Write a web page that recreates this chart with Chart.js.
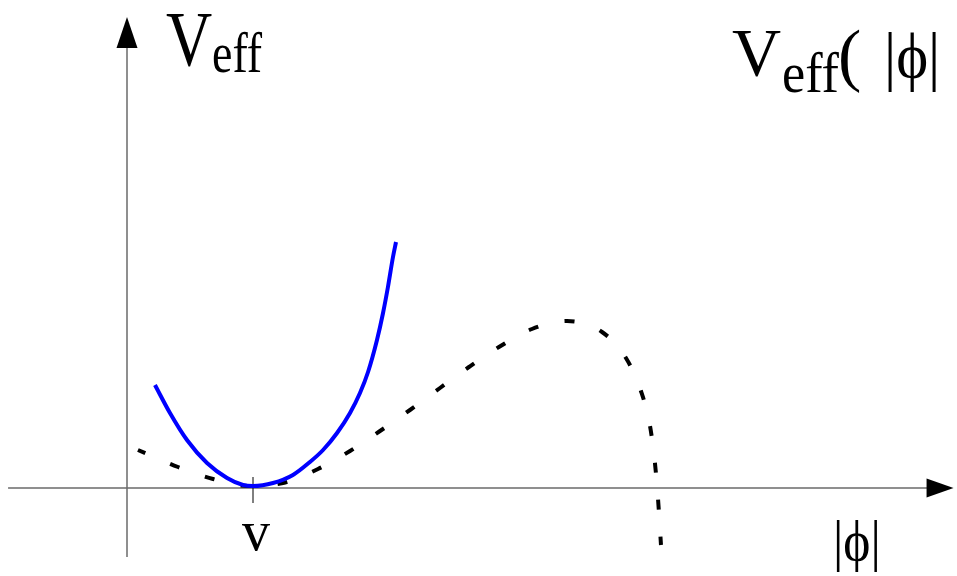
<!DOCTYPE html>
<html>
<head>
<meta charset="utf-8">
<script src="https://cdn.jsdelivr.net/npm/chart.js@4"></script>
<style>
  html, body { margin: 0; padding: 0; background: #fff; }
  #wrap { width: 957px; height: 576px; position: relative; }
</style>
</head>
<body>
<div id="wrap"><canvas id="potential"></canvas></div>
<script>
// |phi| in units of v, V_eff in arbitrary units
const wellX = [0.222, 0.341, 0.476, 0.635, 0.794, 0.921, 1.0, 1.159, 1.317, 1.452, 1.556, 1.667, 1.770, 1.849, 1.913, 1.984, 2.032, 2.071, 2.111, 2.135];
const wellY = [1.03, 0.75, 0.48, 0.25, 0.10, 0.03, 0.02, 0.05, 0.13, 0.26, 0.38, 0.55, 0.75, 0.95, 1.16, 1.48, 1.75, 2.01, 2.31, 2.46];

const loopX = [0.087, 0.405, 0.683, 0.960, 1.238, 1.516, 1.770, 2.008, 2.246, 2.484, 2.714, 2.952, 3.214, 3.492, 3.770, 3.960, 4.079, 4.151, 4.190, 4.214, 4.238];
const loopY = [0.38, 0.21, 0.09, 0.02, 0.05, 0.19, 0.37, 0.57, 0.78, 1.00, 1.21, 1.41, 1.59, 1.67, 1.56, 1.30, 0.97, 0.62, 0.25, -0.10, -0.57];

const tickValues = [1];
const tickLabels = ["v"];

const toPoints = (xs, ys) => xs.map((x, i) => ({ x: x, y: ys[i] }));

function text(ctx, str, x, y, size, sx, align) {
  ctx.save();
  ctx.translate(x, y);
  ctx.scale(sx, 1);
  ctx.font = size + 'px "Liberation Serif", "Times New Roman", serif';
  ctx.textAlign = align || "left";
  ctx.textBaseline = "alphabetic";
  ctx.fillStyle = "#000";
  ctx.fillText(str, 0, 0);
  ctx.restore();
}

const axesPlugin = {
  id: "axes",
  beforeDatasetsDraw(chart) {
    const ctx = chart.ctx;
    const xs = chart.scales.x;
    const ys = chart.scales.y;
    const x0 = xs.getPixelForValue(0);
    const y0 = ys.getPixelForValue(0);
    ctx.save();
    ctx.strokeStyle = "#6b6b6b";
    ctx.lineWidth = 1.5;
    ctx.beginPath();
    ctx.moveTo(xs.getPixelForValue(-0.944), y0);
    ctx.lineTo(xs.getPixelForValue(6.36), y0);
    ctx.moveTo(x0, ys.getPixelForValue(-0.69));
    ctx.lineTo(x0, ys.getPixelForValue(4.40));
    ctx.stroke();

    // arrow heads
    ctx.fillStyle = "#000";
    const tipX = xs.getPixelForValue(6.56);
    ctx.beginPath();
    ctx.moveTo(tipX, y0);
    ctx.lineTo(tipX - 27, y0 - 9.5);
    ctx.lineTo(tipX - 27, y0 + 9.5);
    ctx.closePath();
    ctx.fill();
    const tipY = ys.getPixelForValue(4.71);
    ctx.beginPath();
    ctx.moveTo(x0, tipY);
    ctx.lineTo(x0 - 10.5, tipY + 31);
    ctx.lineTo(x0 + 10.5, tipY + 31);
    ctx.closePath();
    ctx.fill();

    // tick at v
    ctx.strokeStyle = "#000";
    ctx.lineWidth = 1;
    tickValues.forEach((v) => {
      const px = xs.getPixelForValue(v);
      ctx.beginPath();
      ctx.moveTo(px, y0 - 11);
      ctx.lineTo(px, y0 + 15);
      ctx.stroke();
    });
    ctx.restore();
  },
  afterDraw(chart) {
    const ctx = chart.ctx;
    const xs = chart.scales.x;
    const y0 = chart.scales.y.getPixelForValue(0);
    tickValues.forEach((v, i) => {
      text(ctx, tickLabels[i], xs.getPixelForValue(v) + 3, y0 + 62, 56, 1, "center");
    });
    // axis titles
    text(ctx, "V", 166, 65, 78, 0.82);
    text(ctx, "eff", 212, 72, 56, 0.82);
    text(ctx, "|\u03D5|", 833, 560, 56, 0.92);
    // curve label, top right
    text(ctx, "V", 732, 75, 68, 1);
    text(ctx, "eff", 782, 92, 58, 0.9);
    text(ctx, "(", 838, 78, 70, 1);
    text(ctx, "|\u03D5|", 884, 78, 66, 0.92);
  },
};

const config = {
  type: "line",
  data: {
    datasets: [
      {
        label: "well",
        data: toPoints(wellX, wellY),
        borderColor: "#0000ff",
        borderWidth: 4,
        pointRadius: 0,
        cubicInterpolationMode: "monotone",
        fill: false,
      },
      {
        label: "loop corrected",
        data: toPoints(loopX, loopY),
        borderColor: "#000",
        borderWidth: 4,
        borderDash: [10, 27],
        borderDashOffset: 2,
        pointRadius: 0,
        cubicInterpolationMode: "monotone",
        fill: false,
      },
    ],
  },
  options: {
    responsive: true,
    maintainAspectRatio: false,
    animation: false,
    layout: { padding: 0 },
    plugins: { legend: false, tooltip: { enabled: false } },
    scales: {
      x: { type: "linear", display: false, min: -127 / 126, max: 830 / 126 },
      y: { type: "linear", display: false, min: -0.88, max: 4.88 },
    },
  },
  plugins: [axesPlugin],
};

new Chart(document.getElementById("potential"), config);
</script>
</body>
</html>
